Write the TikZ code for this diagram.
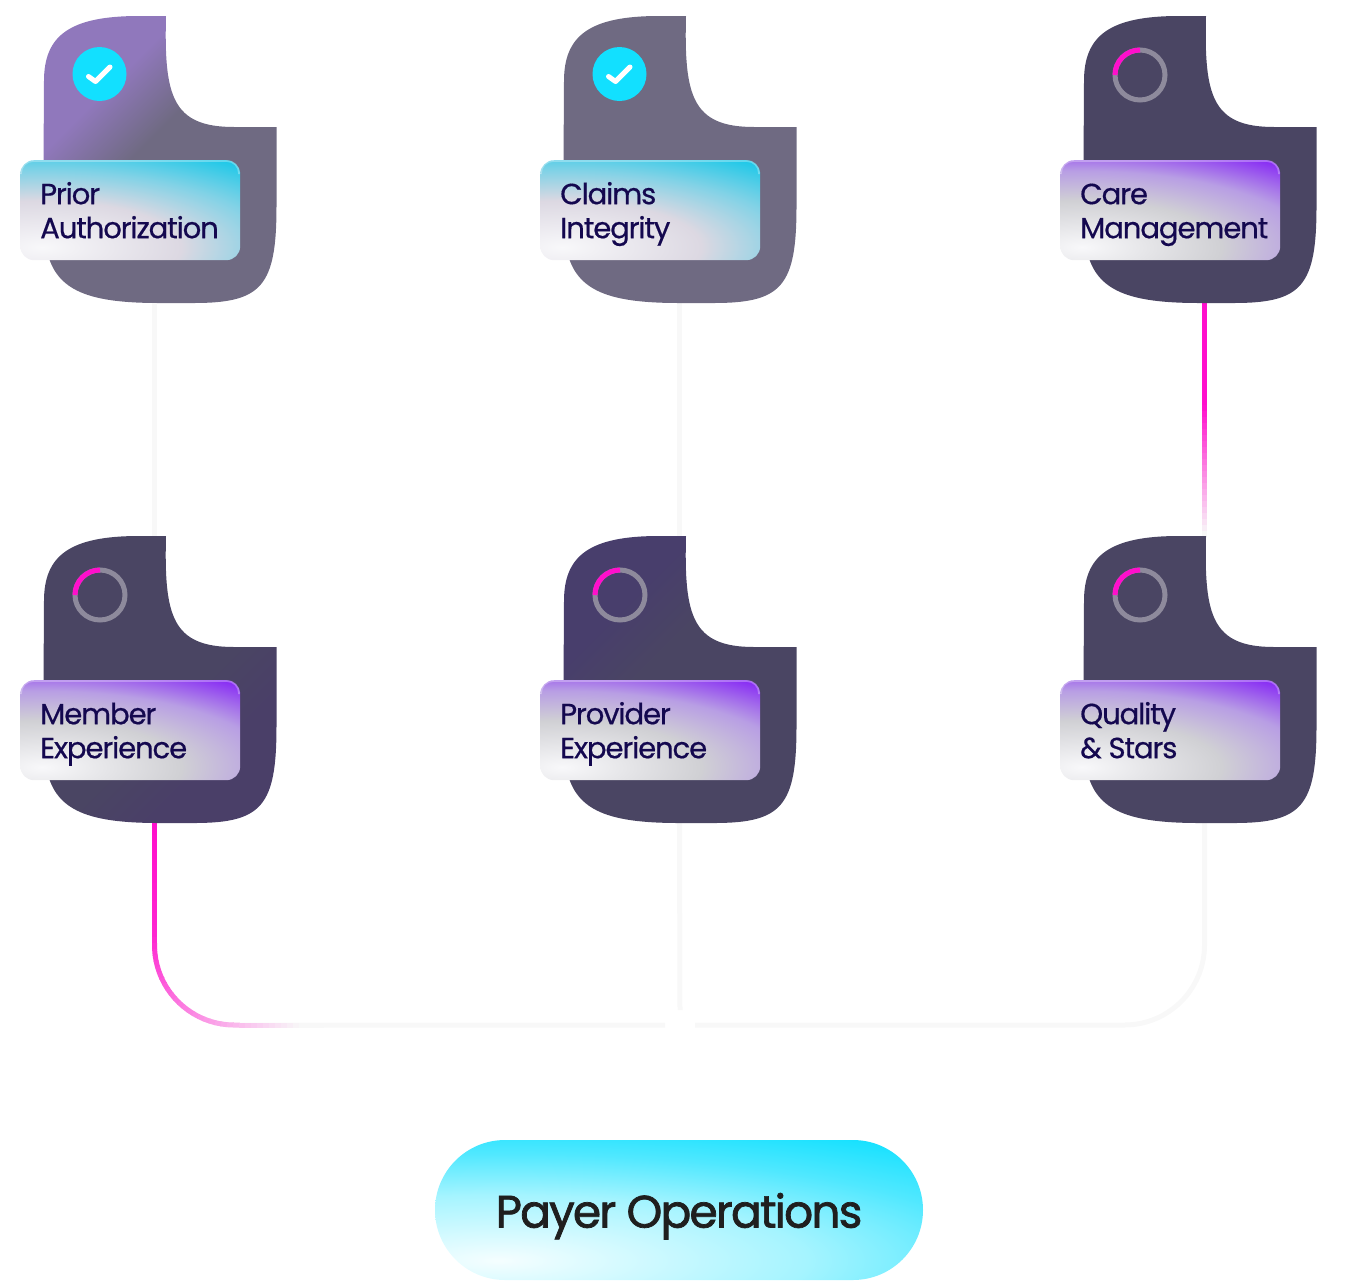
\documentclass[tikz,border=0pt]{standalone}
\usepackage{fontspec}
\setmainfont{Poppins}[LetterSpace=-4.0,FakeBold=0.5]
\newfontfamily\payerfont{Poppins}[LetterSpace=-4.0,FakeBold=1.6]
\usetikzlibrary{positioning,calc}
% colores
\definecolor{wirecol}{HTML}{F8F8F8}
\definecolor{hotpink}{HTML}{FF0FCC}
\definecolor{navytext}{HTML}{14084F}
\definecolor{dotcyan}{HTML}{12E0FF}
\definecolor{ringgray}{HTML}{8E8A9C}
\definecolor{darkblob}{HTML}{4A4563}
\definecolor{grayblob}{HTML}{6F6A82}
\definecolor{purpleblob}{HTML}{9078BC}
\definecolor{bluishblob}{HTML}{483E6C}
\definecolor{plumblob}{HTML}{4A3F68}
% sombreado de las formas
\pgfdeclarehorizontalshading{priorfade}{100bp}{color(0bp)=(purpleblob);color(33bp)=(purpleblob);color(46bp)=(grayblob);color(100bp)=(grayblob)}
\pgfdeclarehorizontalshading{providerfade}{100bp}{color(0bp)=(bluishblob);color(32bp)=(bluishblob);color(44bp)=(darkblob);color(100bp)=(darkblob)}
\pgfdeclarehorizontalshading{memberfade}{100bp}{color(0bp)=(darkblob);color(56bp)=(darkblob);color(68bp)=(plumblob);color(100bp)=(plumblob)}
% sombreado de las etiquetas: centro claro abajo a la izquierda
\def\makeseg#1#2 #3 #4/#5 #6 #7/{%
  \pgfmathsetmacro\ra{#2/255}\pgfmathsetmacro\ga{#3/255}\pgfmathsetmacro\ba{#4/255}%
  \pgfmathsetmacro\dr{(#5-#2)/255}\pgfmathsetmacro\dg{(#6-#3)/255}\pgfmathsetmacro\db{(#7-#4)/255}%
  \expandafter\edef\csname seg#1\endcsname{dup \dr\space mul \ra\space add exch dup \dg\space mul \ga\space add exch \db\space mul \ba\space add}}
\newcommand\cardshade[7]{%
  \makeseg A#4/#5/\makeseg B#5/#6/\makeseg C#6/#7/%
  \edef\next{\noexpand\pgfdeclarefunctionalshading{#1}{\noexpand\pgfpointorigin}{\noexpand\pgfpoint{100bp}{100bp}}{}{
    #3 sub 42.5 div dup mul exch #2 sub 57.5 div dup mul add sqrt
    dup 0.55 lt { 0.55 div \segA }{ dup 0.9 lt { 0.55 sub 0.35 div \segB }{ 0.9 sub 0.35 div dup 1 gt { pop 1 } if \segC } ifelse } ifelse}}\next}
\cardshade{labelcyan}{30}{31.5}{248 248 250}{220 216 226}{130 210 230}{30 200 232}
\cardshade{labelviolet}{30}{31.5}{248 248 250}{208 208 212}{184 158 228}{136 44 244}
\cardshade{pillcyan}{31.5}{32}{245 254 255}{165 244 255}{80 232 255}{14 224 255}
\newcommand\cardstrutA{\rule[-8pt]{0pt}{38pt}}
\newcommand\cardstrutB{\rule[-8pt]{0pt}{34pt}}
\tikzset{
  wire/.style={draw=wirecol,line width=5pt},
  blobbox/.style={anchor=north west,inner sep=0pt,outer sep=0pt,minimum width=233pt,minimum height=287pt},
  cardlabel/.style={anchor=north west,rectangle,rounded corners=14pt,inner sep=0pt,minimum width=220pt,minimum height=100pt,
    text width=180pt,align=left,text=navytext,font=\fontsize{29.2}{34}\selectfont},
  rim/.style={draw=white,draw opacity=.3,line width=1.8pt,rounded corners=12pt},
  donedot/.style={circle,fill=dotcyan,inner sep=0pt,minimum size=54pt},
  ringdot/.style={circle,draw=ringgray,line width=5pt,inner sep=0pt,outer sep=0pt,minimum size=50pt},
  blobprior/.style={shading=priorfade,shading angle=-45},
  blobclaims/.style={fill=grayblob},
  blobdark/.style={fill=darkblob},
  blobmember/.style={shading=memberfade,shading angle=-45},
  blobprovider/.style={shading=providerfade,shading angle=-45}
}
\begin{document}
\begin{tikzpicture}[x=1pt,y=-1pt]
  \useasboundingbox (0,0) rectangle (1360,1280);
  %nodos que dan nombre a cada forma
  \foreach \nm/\bx/\by in {prior/44/16,claims/564/16,care/1084/16,member/44/536,provider/564/536,quality/1084/536}
    \node[blobbox] (\nm) at (\bx,\by) {};
  \coordinate (joinw) at (665,1025);
  \coordinate (joine) at (695,1025);
  \coordinate (claimsend) at (680,1010);
  %%%% CONECTORES
  \draw[wire] ([xshift=-6pt]prior.south) -- ([xshift=-6pt,yshift=-2pt]member.north);
  \draw[wire] ([xshift=-1pt]claims.south) -- ([xshift=-1pt,yshift=-2pt]provider.north);
  \draw[wire] ([xshift=4pt]care.south) -- ([xshift=4pt,yshift=-2pt]quality.north);
  \draw[wire,rounded corners=80pt] ([xshift=-6pt]member.south) |- (joinw);
  \draw[wire] ([xshift=-1pt]provider.south) -- (claimsend);
  \draw[wire,rounded corners=80pt] ([xshift=4pt]quality.south) |- (joine);
  %tramos rosas
  \foreach \s in {0,6,...,228}{
    \pgfmathsetmacro\mixp{\s<100 ? 100 : (228-\s)/128*100}
    \draw[wire,draw=hotpink!\mixp!wirecol,dash pattern=on 0pt off \s pt on 7pt off 3000pt]
      ([xshift=4pt]care.south) -- ([xshift=4pt,yshift=2pt]quality.north);
  }
  \foreach \s in {0,6,...,330}{
    \pgfmathsetmacro\mixp{\s<110 ? 100-\s/110*10 : (\s<250 ? 90-(\s-110)/140*65 : max(0,25-(\s-250)/60*25))}
    \draw[wire,rounded corners=80pt,draw=hotpink!\mixp!wirecol,dash pattern=on 0pt off \s pt on 7pt off 3000pt]
      ([xshift=-6pt]member.south) |- (joinw);
  }
  %%%% FORMAS Y ETIQUETAS
  \foreach \nm/\bx/\by/\blobsty/\labsty/\txta/\txtb in {
    prior/44/16/blobprior/labelcyan/Prior/Authorization,
    claims/564/16/blobclaims/labelcyan/Claims/Integrity,
    care/1084/16/blobdark/labelviolet/Care/Management,
    member/44/536/blobmember/labelviolet/Member/Experience,
    provider/564/536/blobprovider/labelviolet/Provider/Experience,
    quality/1084/536/blobdark/labelviolet/Quality/{\&\hspace{-3pt} Stars}}{
    \begin{scope}[shift={(\bx,\by)}]
      \path[\blobsty] (122,0) .. controls (120,80) and (128,111) .. (190,111) -- (232.5,111)
        -- (232.5,190) .. controls (232.5,270) and (218,287) .. (150,287) -- (115,287)
        .. controls (45,287) and (12,275) .. (3,235) -- (-.5,150) -- (0,65)
        .. controls (0,20) and (25,0) .. (95,0) -- cycle;
      \node[cardlabel,shading=\labsty] (\nm label) at (-24,144) {\cardstrutA\txta\\\cardstrutB\txtb};
      \draw[rim] (-23,158) -- (-23,145) -- (195,145) -- (195,158);
    \end{scope}
  }
  %iconos
  \foreach \nm/\bx in {prior/99.5,claims/619.5}{
    \node[donedot] (\nm dot) at (\bx,74) {};
    \draw[white,line width=5pt,line cap=round,line join=round]
      (\bx-11,76.5) -- (\bx-4,81.5) -- (\bx+10.5,67);
  }
  \foreach \nm/\bx/\by in {care/1140/75,member/100/595,provider/620/595,quality/1140/595}{
    \node[ringdot] (\nm ring) at (\bx,\by) {};
    \draw[hotpink,line width=5pt] (\bx-25,\by) arc[start angle=180,end angle=90,radius=25pt];
  }
  %pastilla
  \node[rectangle,rounded corners=70pt,shading=pillcyan,minimum width=488pt,minimum height=140pt,inner sep=0pt,
    text=black!88,font=\payerfont\fontsize{45.5}{50}\selectfont] (payer) at (679,1210) {\rule[-11pt]{0pt}{58pt}Payer Operations};
\end{tikzpicture}
\end{document}
